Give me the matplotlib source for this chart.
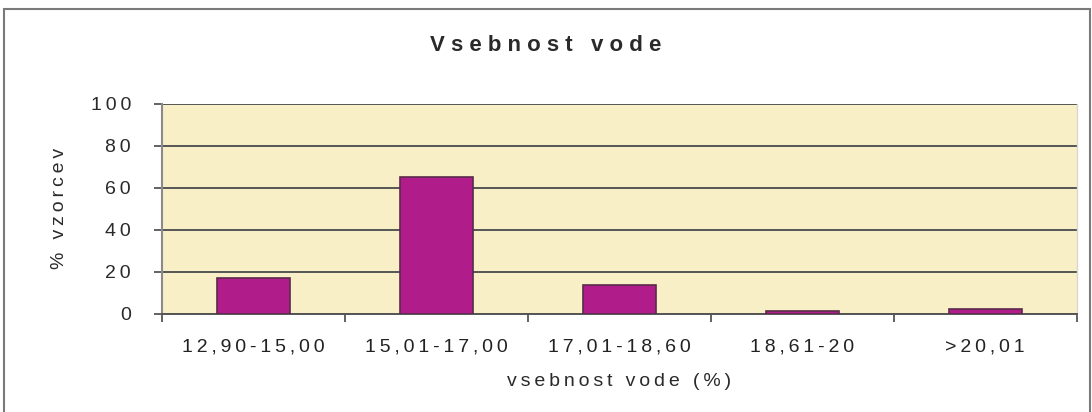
import matplotlib.pyplot as plt
import numpy as np
from matplotlib.patches import Rectangle

categories = ["12,90-15,00", "15,01-17,00", "17,01-18,60", "18,61-20", ">20,01"]
values = [17, 65, 14, 1.5, 2.5]
yticks = [0, 20, 40, 60, 80, 100]

TS = "\u2009"  # thin space used for the stretched letter look


def spaced(s: str, sep: str = TS) -> str:
    return sep.join(s)


plt.rcParams["font.family"] = ["Liberation Sans", "DejaVu Sans"]

fig = plt.figure(figsize=(10.92, 4.12), dpi=100)
ax = fig.add_axes([0.148, 0.238, 0.838, 0.51])

x = np.arange(len(categories))
ax.set_facecolor("#F8EFC6")
ax.bar(x, values, width=0.4, color="#B01D8B", edgecolor="#5a2a4a", linewidth=1.2, zorder=3)

ax.set_xlim(-0.5, len(categories) - 0.5)
ax.set_ylim(0, 100)
ax.set_yticks(yticks)
ax.set_yticklabels([spaced(str(v)) for v in yticks], fontsize=14, color="#2a2a2a")
ax.yaxis.grid(True, color="#555555", linewidth=1.4, zorder=1)
ax.set_xticks(np.arange(len(categories) + 1) - 0.5, minor=False)
ax.set_xticklabels([])
ax.set_xticks(x, minor=True)
ax.set_xticklabels([spaced(c) for c in categories], minor=True, fontsize=14, color="#222222")
ax.tick_params(axis="x", which="minor", length=0, pad=18)
ax.tick_params(axis="x", which="major", length=6, width=1.3, color="#555555", direction="out")
ax.tick_params(axis="y", length=6, width=1.3, color="#555555", direction="out", pad=16)

ax.spines["top"].set_visible(False)
ax.spines["right"].set_color("#d8d8d8")
ax.spines["right"].set_linewidth(1.0)
ax.spines["left"].set_color("#8a8a8a")
ax.spines["left"].set_linewidth(1.5)
ax.spines["bottom"].set_color("#555555")
ax.spines["bottom"].set_linewidth(1.4)

ax.set_xlabel(spaced("vsebnost vode (%)"), fontsize=14, color="#2a2a2a", labelpad=12)
ax.set_ylabel(spaced("% vzorcev"), fontsize=14, color="#2a2a2a", labelpad=16)

fig.text(0.5, 0.89, " ".join("Vsebnost") + "   " + " ".join("vode"),
         ha="center", va="center", fontsize=16, fontweight="bold", color="#2a2a2a")

frame = Rectangle((0.004, -0.02), 0.994, 0.999, transform=fig.transFigure,
                  fill=False, edgecolor="#7a7a7a", linewidth=1.5)
fig.patches.append(frame)

fig.savefig("out.png", dpi=100)
